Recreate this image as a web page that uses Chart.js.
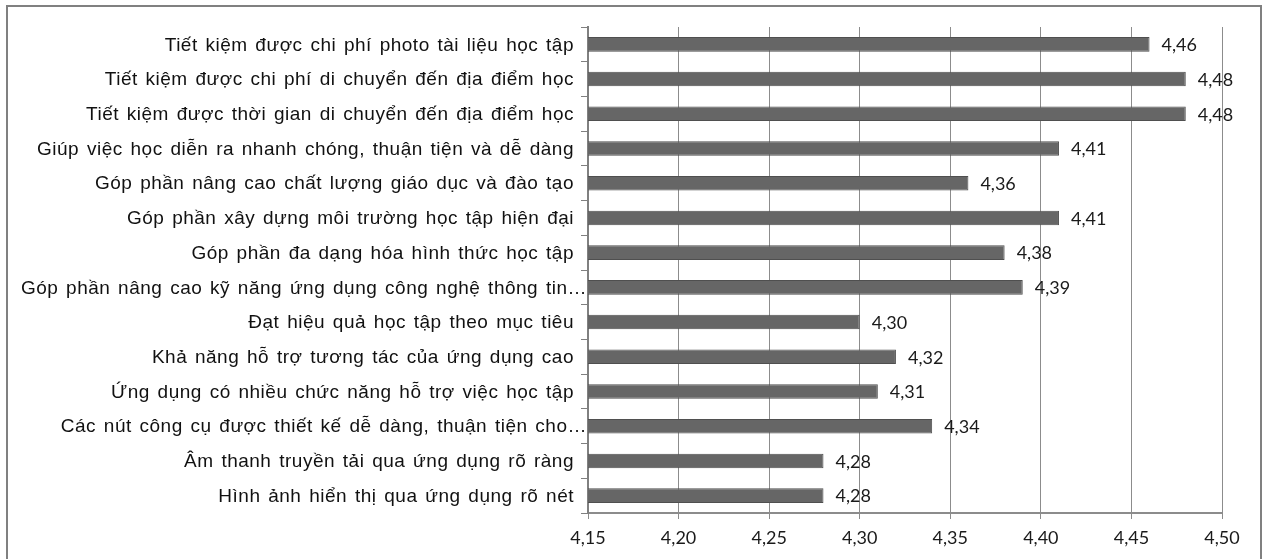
<!DOCTYPE html>
<html>
<head>
<meta charset="utf-8">
<script src="https://cdn.jsdelivr.net/npm/chart.js@4/dist/chart.umd.min.js"></script>
<style>
  html, body { margin: 0; padding: 0; background: #fff; overflow: hidden; }
  #wrap { position: relative; width: 1267px; height: 559px; }
  #frame { position: absolute; left: 6px; top: 5px; width: 1256px; height: 600px;
           border: 2px solid #808080; box-sizing: border-box; pointer-events: none; }
  canvas { position: absolute; left: 0; top: 0; }
</style>
</head>
<body>
<div id="wrap">
  <canvas id="c" width="1267" height="559"></canvas>
  <div id="frame"></div>
</div>
<script>
// Survey items (top to bottom) and their mean scores
const categories = [
  "Tiết kiệm được chi phí photo tài liệu học tập",
  "Tiết kiệm được chi phí di chuyển đến địa điểm học",
  "Tiết kiệm được thời gian di chuyển đến địa điểm học",
  "Giúp việc học diễn ra nhanh chóng, thuận tiện và dễ dàng",
  "Góp phần nâng cao chất lượng giáo dục và đào tạo",
  "Góp phần xây dựng môi trường học tập hiện đại",
  "Góp phần đa dạng hóa hình thức học tập",
  "Góp phần nâng cao kỹ năng ứng dụng công nghệ thông tin…",
  "Đạt hiệu quả học tập theo mục tiêu",
  "Khả năng hỗ trợ tương tác của ứng dụng cao",
  "Ứng dụng có nhiều chức năng hỗ trợ việc học tập",
  "Các nút công cụ được thiết kế dễ dàng, thuận tiện cho…",
  "Âm thanh truyền tải qua ứng dụng rõ ràng",
  "Hình ảnh hiển thị qua ứng dụng rõ nét"
];
const scores = [4.46, 4.48, 4.48, 4.41, 4.36, 4.41, 4.38, 4.39, 4.30, 4.32, 4.31, 4.34, 4.28, 4.28];
const xTicks = [4.15, 4.20, 4.25, 4.30, 4.35, 4.40, 4.45, 4.50];

const fmt = v => v.toFixed(2).replace('.', ',');

// Category names, right-aligned against the value axis with loose spacing;
// truncated names run right up to the axis line
const categoryLabels = {
  id: 'categoryLabels',
  afterDraw(chart) {
    const ctx = chart.ctx;
    const y = chart.scales.y;
    ctx.save();
    ctx.font = '19px "Liberation Sans", Arial, sans-serif';
    ctx.letterSpacing = '0.5px';
    ctx.wordSpacing = '2px';
    ctx.fillStyle = '#111111';
    ctx.textAlign = 'right';
    ctx.textBaseline = 'middle';
    categories.forEach((name, i) => {
      const inset = name.endsWith('…') ? 1 : 14;
      ctx.fillText(name, y.right - inset, y.getPixelForValue(i) + 1);
    });
    ctx.restore();
  }
};

// Writes each bar's value just past its end
const valueLabels = {
  id: 'valueLabels',
  afterDatasetsDraw(chart) {
    const ctx = chart.ctx;
    const meta = chart.getDatasetMeta(0);
    ctx.save();
    ctx.font = '18px Lato, "Open Sans", sans-serif';
    ctx.fillStyle = '#1a1a1a';
    ctx.textAlign = 'left';
    ctx.textBaseline = 'middle';
    meta.data.forEach((bar, i) => {
      ctx.fillText(fmt(scores[i]), bar.x + 12, bar.y + 1);
    });
    ctx.restore();
  }
};

new Chart(document.getElementById('c'), {
  type: 'bar',
  data: {
    labels: categories,
    datasets: [{
      data: scores,
      backgroundColor: '#666666',
      borderColor: '#4f4f4f',
      borderWidth: 1,
      categoryPercentage: 1,
      barPercentage: 0.42
    }]
  },
  options: {
    indexAxis: 'y',
    responsive: false,
    animation: false,
    devicePixelRatio: 1,
    layout: { padding: { left: 0, right: 45, top: 27, bottom: 0 } },
    plugins: { legend: { display: false }, tooltip: { enabled: false } },
    scales: {
      x: {
        min: 4.15,
        max: 4.50,
        afterBuildTicks: s => { s.ticks = xTicks.map(v => ({ value: v })); },
        afterFit: s => { s.height = 46; },
        ticks: {
          callback: v => fmt(v),
          font: { family: 'Lato, "Open Sans", sans-serif', size: 18 },
          color: '#1a1a1a',
          padding: 8,
          maxRotation: 0
        },
        grid: { color: '#8c8c8c', lineWidth: 1, tickLength: 6, drawTicks: true },
        border: { color: '#8c8c8c', width: 2 }
      },
      y: {
        afterFit: s => { s.width = 588; },
        ticks: { display: false },
        grid: { drawOnChartArea: false, drawTicks: true, tickLength: 7, color: '#808080', offset: true },
        border: { color: '#808080', width: 2 }
      }
    }
  },
  plugins: [valueLabels, categoryLabels]
});
</script>
</body>
</html>
